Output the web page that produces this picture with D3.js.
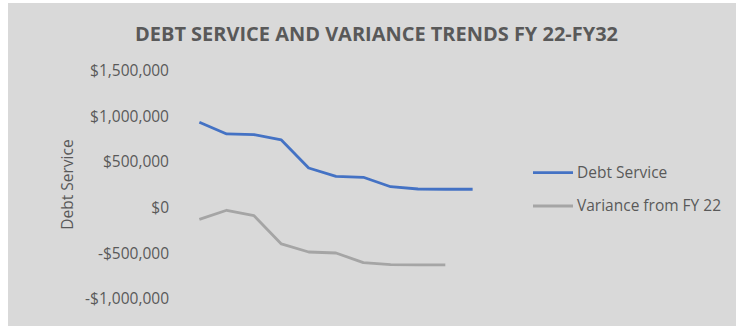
<!DOCTYPE html>
<html><head><meta charset="utf-8">
<script src="https://cdn.jsdelivr.net/npm/d3@7"></script>
<style>html,body{margin:0;padding:0;background:#fff;}svg{display:block;}</style>
</head><body>
<script>
const categories = ["FY22","FY23","FY24","FY25","FY26","FY27","FY28","FY29","FY30","FY31","FY32"];
const debtService = [928000, 800000, 792000, 734000, 427000, 336000, 325000, 222000, 197000, 194000, 194000];
const variance = [-135000, -36000, -95000, -405000, -493000, -504000, -610000, -632000, -635000, -635000];
const yTicks = [-1000000, -500000, 0, 500000, 1000000, 1500000];
const seriesNames = ["Debt Service", "Variance from FY 22"];
const seriesColors = ["#4472c4", "#a5a5a5"];
const title = "DEBT SERVICE AND VARIANCE TRENDS FY 22-FY32";
const yLabel = "Debt Service";

const W = 736, H = 326;
const svg = d3.select("body").append("svg").attr("width", W).attr("height", H);
svg.append("rect").attr("x", 8).attr("y", 3).attr("width", W - 8).attr("height", H - 3).attr("fill", "#d9d9d9");

const font = "'Open Sans', sans-serif";
const fs = 15.5;
const x = d3.scaleBand().domain(categories).range([185.7, 486.3]);
const y = d3.scaleLinear().domain([-1000000, 1500000]).range([298.3, 70]);

svg.append("text").attr("x", 376.5).attr("y", 41).attr("text-anchor", "middle")
  .attr("font-family", font).attr("font-weight", "bold").attr("font-size", 20)
  .attr("fill", "#595959").attr("textLength", 483).attr("lengthAdjust", "spacingAndGlyphs").text(title);

const fmt = v => (v < 0 ? "-$" : "$") + d3.format(",")(Math.abs(v));
const yAxis = d3.axisLeft(y).tickValues(yTicks).tickFormat(fmt).tickSize(0).tickPadding(0);
const ga = svg.append("g").attr("transform", "translate(169,0)").call(yAxis);
ga.select(".domain").remove();
ga.selectAll("text").attr("font-family", font).attr("font-size", fs).attr("fill", "#595959").attr("dy", "0.35em");

svg.append("text").attr("transform", "translate(73,184.5) rotate(-90)").attr("text-anchor", "middle")
  .attr("font-family", font).attr("font-size", fs).attr("fill", "#595959").text(yLabel);

const line = d3.line().x((d, i) => x(categories[i]) + x.bandwidth() / 2).y(d => y(d));
[debtService, variance].forEach((s, k) => {
  svg.append("path").datum(s).attr("d", line).attr("fill", "none")
    .attr("stroke", seriesColors[k]).attr("stroke-width", 2.8).attr("stroke-linejoin", "round");
});

const legY = [172.7, 206];
seriesNames.forEach((n, k) => {
  svg.append("line").attr("x1", 533).attr("x2", 573).attr("y1", legY[k]).attr("y2", legY[k])
    .attr("stroke", seriesColors[k]).attr("stroke-width", 2.8);
  svg.append("text").attr("x", 577).attr("y", legY[k]).attr("dy", "0.35em")
    .attr("font-family", font).attr("font-size", fs).attr("fill", "#595959").text(n);
});
</script>
</body></html>
